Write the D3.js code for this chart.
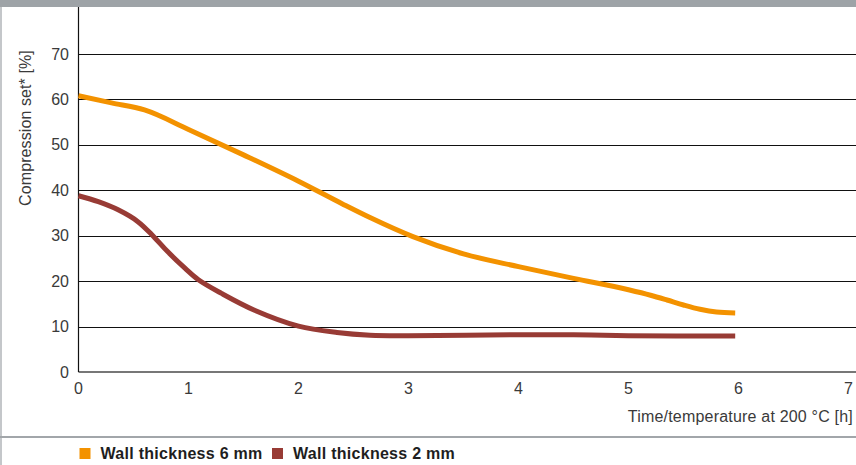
<!DOCTYPE html>
<html>
<head>
<meta charset="utf-8">
<script src="https://cdn.jsdelivr.net/npm/d3@7"></script>
<style>
  html, body { margin: 0; padding: 0; background: #fff; }
  svg { display: block; font-family: "Liberation Sans", Arial, sans-serif; }
</style>
</head>
<body>
<div id="chart"></div>
<script>
// values
const hours6 = [0, 0.3, 0.6, 1.0, 1.5, 2.0, 2.4, 2.65, 3.04, 3.5, 4.0, 4.5, 5.0, 5.2, 5.35, 5.5, 5.65, 5.8, 5.97];
const set6   = [60.8, 59.25, 57.7, 53.4, 47.8, 42.0, 37.0, 34.0, 29.8, 26.0, 23.2, 20.6, 18.1, 16.9, 15.85, 14.75, 13.8, 13.2, 13.0];
const hours2 = [0, 0.18, 0.36, 0.54, 0.68, 0.81, 0.97, 1.09, 1.3, 1.6, 2.0, 2.35, 2.65, 3.0, 4.0, 4.5, 5.0, 5.97];
const set2   = [38.8, 37.5, 35.7, 33.1, 29.9, 26.5, 22.8, 20.3, 17.3, 13.6, 10.1, 8.7, 8.1, 8.0, 8.2, 8.2, 8.0, 7.9];
const xTicks = [0, 1, 2, 3, 4, 5, 6, 7];
const yTicks = [0, 10, 20, 30, 40, 50, 60, 70];
const seriesNames = ['Wall thickness 6 mm', 'Wall thickness 2 mm'];
const seriesColors = ['#f39200', '#983b35'];

const W = 856, H = 465;
const svg = d3.select('#chart').append('svg')
  .attr('width', W)
  .attr('height', H);

const x = d3.scaleLinear().domain([0, 7]).range([78.5, 848.5]);
const y = d3.scaleLinear().domain([0, 80.35]).range([372, 7]);

// frame: grey top band, left rule, legend separator
svg.append('rect').attr('x', 0).attr('y', 0).attr('width', W).attr('height', 7).attr('fill', '#9ea3a7');
svg.append('line').attr('x1', 1).attr('x2', 1).attr('y1', 7).attr('y2', H)
  .attr('stroke', '#c4c7ca').attr('stroke-width', 2);
svg.append('line').attr('x1', 0).attr('x2', W).attr('y1', 437).attr('y2', 437)
  .attr('stroke', '#a2a6aa').attr('stroke-width', 2);

// horizontal grid
svg.append('g')
  .selectAll('line')
  .data(yTicks.filter(d => d > 0))
  .join('line')
  .attr('x1', x(0)).attr('x2', W)
  .attr('y1', d => Math.round(y(d)) + 0.5)
  .attr('y2', d => Math.round(y(d)) + 0.5)
  .attr('stroke', '#111')
  .attr('stroke-width', 1);

// axes lines
svg.append('line')
  .attr('x1', x(0)).attr('x2', W)
  .attr('y1', y(0)).attr('y2', y(0))
  .attr('stroke', '#4a4a4a').attr('stroke-width', 1.6);
svg.append('line')
  .attr('x1', x(0)).attr('x2', x(0))
  .attr('y1', y(0)).attr('y2', 7)
  .attr('stroke', '#111').attr('stroke-width', 1.2);

// tick labels
svg.append('g')
  .selectAll('text')
  .data(yTicks)
  .join('text')
  .attr('x', 69)
  .attr('y', d => y(d) + 5.5)
  .attr('text-anchor', 'end')
  .attr('fill', '#3a3a3a')
  .style('font-size', '16px')
  .text(d => d);

svg.append('g')
  .selectAll('text')
  .data(xTicks)
  .join('text')
  .attr('x', d => x(d))
  .attr('y', 394)
  .attr('text-anchor', 'middle')
  .attr('fill', '#3a3a3a')
  .style('font-size', '16px')
  .text(d => d);

// axis titles
svg.append('text')
  .attr('transform', 'translate(31,128) rotate(-90)')
  .attr('text-anchor', 'middle')
  .attr('fill', '#3a3a3a')
  .style('font-size', '16px')
  .style('letter-spacing', '0.1px')
  .text('Compression set* [%]');

svg.append('text')
  .attr('x', 853)
  .attr('y', 422)
  .attr('text-anchor', 'end')
  .attr('fill', '#3a3a3a')
  .style('font-size', '16px')
  .style('letter-spacing', '0.2px')
  .text('Time/temperature at 200 °C [h]');

// curves
const line6 = d3.line()
  .x(d => x(d[0]))
  .y(d => y(d[1]))
  .curve(d3.curveMonotoneX);
const line2 = d3.line()
  .x(d => x(d[0]))
  .y(d => y(d[1]))
  .curve(d3.curveCatmullRom.alpha(0.5));

const series = [
  { pts: d3.zip(hours6, set6), gen: line6 },
  { pts: d3.zip(hours2, set2), gen: line2 }
];

svg.append('g')
  .selectAll('path')
  .data(series)
  .join('path')
  .attr('d', d => d.gen(d.pts))
  .attr('fill', 'none')
  .attr('stroke', (d, i) => seriesColors[i])
  .attr('stroke-width', 5)
  .attr('stroke-linecap', 'butt')
  .attr('stroke-linejoin', 'round');

// legend
const legendX = [79.5, 272];
const legend = svg.append('g')
  .selectAll('g')
  .data(seriesNames)
  .join('g')
  .attr('transform', (d, i) => `translate(${legendX[i]},448)`);

legend.append('rect')
  .attr('width', 11).attr('height', 11)
  .attr('fill', (d, i) => seriesColors[i]);

legend.append('text')
  .attr('x', 21)
  .attr('y', 11.3)
  .attr('fill', '#1e1e1e')
  .style('font-size', '16px')
  .style('font-weight', 'bold')
  .style('letter-spacing', '0.28px')
  .text(d => d);
</script>
</body>
</html>
